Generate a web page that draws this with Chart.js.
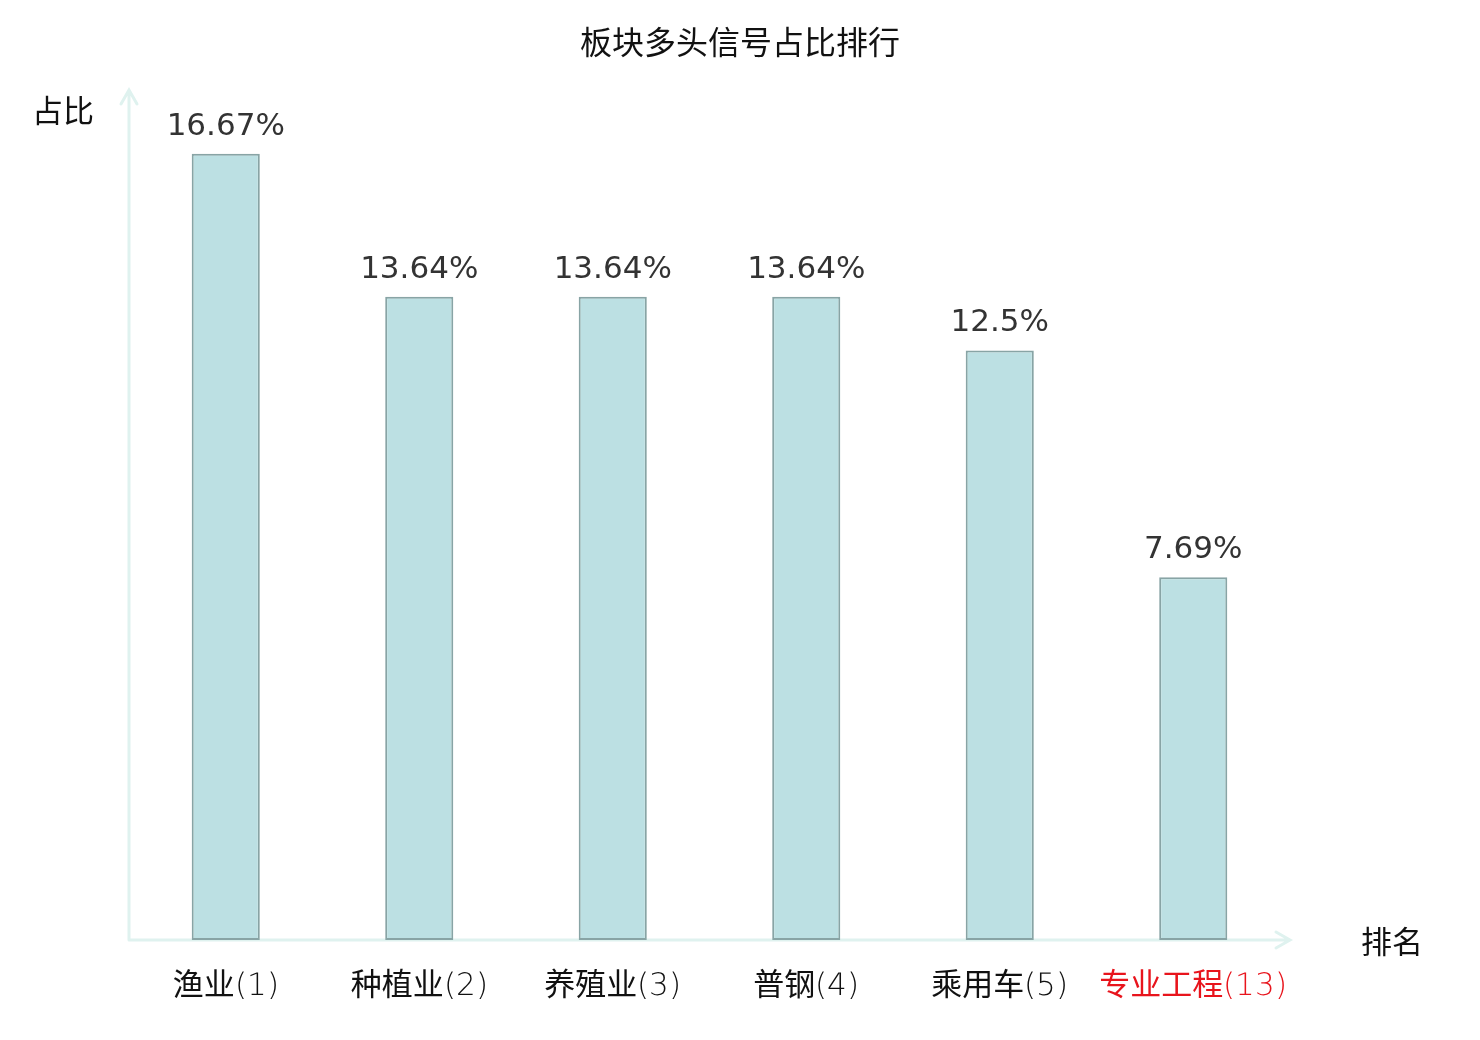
<!DOCTYPE html>
<html>
<head>
<meta charset="utf-8">
<script src="https://cdn.jsdelivr.net/npm/chart.js@4/dist/chart.umd.min.js"></script>
<style>
  @font-face {
    font-family: "TickLatin";
    src: local("DejaVu Sans ExtraLight"), local("DejaVuSans-ExtraLight");
    unicode-range: U+0000-00FF;
  }
  html, body { margin: 0; padding: 0; background: #fff; }
  #wrap { width: 1480px; height: 1040px; }
</style>
</head>
<body>
<div id="wrap"><canvas id="chart-rank"></canvas></div>
<script>
const CATEGORIES = ["渔业(1)", "种植业(2)", "养殖业(3)", "普钢(4)", "乘用车(5)", "专业工程(13)"];
const SHARES = [16.67, 13.64, 13.64, 13.64, 12.5, 7.69];
const HIGHLIGHT = [false, false, false, false, false, true];
const Y_MAX = 18;

const CJK = "'Noto Sans CJK SC', 'Noto Sans', sans-serif";
const TICK_FONT = "TickLatin, " + CJK;
const AXIS_COLOR = "#dff2ef";

const axisArrows = {
  id: "axisArrows",
  beforeDatasetsDraw(chart) {
    const { ctx, chartArea: a } = chart;
    ctx.save();
    ctx.strokeStyle = AXIS_COLOR;
    ctx.lineWidth = 3;
    ctx.lineCap = "round";
    ctx.beginPath();
    // y axis
    ctx.moveTo(a.left, a.bottom);
    ctx.lineTo(a.left, a.top - 1);
    ctx.moveTo(a.left - 8, a.top + 13);
    ctx.lineTo(a.left, a.top - 1);
    ctx.lineTo(a.left + 8, a.top + 13);
    // x axis
    ctx.moveTo(a.left, a.bottom);
    ctx.lineTo(a.right, a.bottom);
    ctx.moveTo(a.right - 14, a.bottom - 8);
    ctx.lineTo(a.right, a.bottom);
    ctx.lineTo(a.right - 14, a.bottom + 8);
    ctx.stroke();

    ctx.fillStyle = "#111";
    ctx.textAlign = "center";
    ctx.textBaseline = "middle";
    ctx.font = "32px " + CJK;
    ctx.fillText("板块多头信号占比排行", 740, 42);
    ctx.font = "31px " + CJK;
    ctx.fillText("占比", 63, 110);
    ctx.fillText("排名", 1392, 941);
    ctx.restore();
  },
  afterDatasetsDraw(chart) {
    const { ctx } = chart;
    const meta = chart.getDatasetMeta(0);
    ctx.save();
    ctx.fillStyle = "#333";
    ctx.font = "31px 'DejaVu Sans', sans-serif";
    ctx.textAlign = "center";
    ctx.textBaseline = "alphabetic";
    meta.data.forEach((bar, i) => {
      ctx.fillText(SHARES[i] + "%", bar.x, bar.y - 19);
    });
    ctx.restore();
  },
};

function initRankChart() {
  new Chart(document.getElementById("chart-rank"), {
    type: "bar",
    data: {
      labels: CATEGORIES,
      datasets: [{
        data: SHARES,
        backgroundColor: "#bce0e3",
        borderColor: "#88a4a5",
        borderWidth: 2,
        borderSkipped: false,
        barPercentage: 0.352,
        categoryPercentage: 1,
      }],
    },
    options: {
      responsive: true,
      maintainAspectRatio: false,
      animation: false,
      layout: { padding: { left: 129, right: 190, top: 91, bottom: 0 } },
      plugins: {
        legend: { display: false },
        tooltip: { enabled: false },
        title: { display: false },
      },
      scales: {
        x: {
          border: { display: false },
          grid: { display: false, drawTicks: false },
          ticks: {
            padding: 28,
            maxRotation: 0,
            autoSkip: false,
            font: { family: TICK_FONT, size: 31 },
            color: (c) => (HIGHLIGHT[c.index] ? "#e8141c" : "#111"),
          },
          afterFit: (s) => { s.height = 100; },
        },
        y: {
          display: false,
          min: 0,
          max: Y_MAX,
        },
      },
    },
    plugins: [axisArrows],
  });
}

document.fonts.load("31px TickLatin", "(1)")
  .catch(() => {})
  .then(initRankChart);
</script>
</body>
</html>
